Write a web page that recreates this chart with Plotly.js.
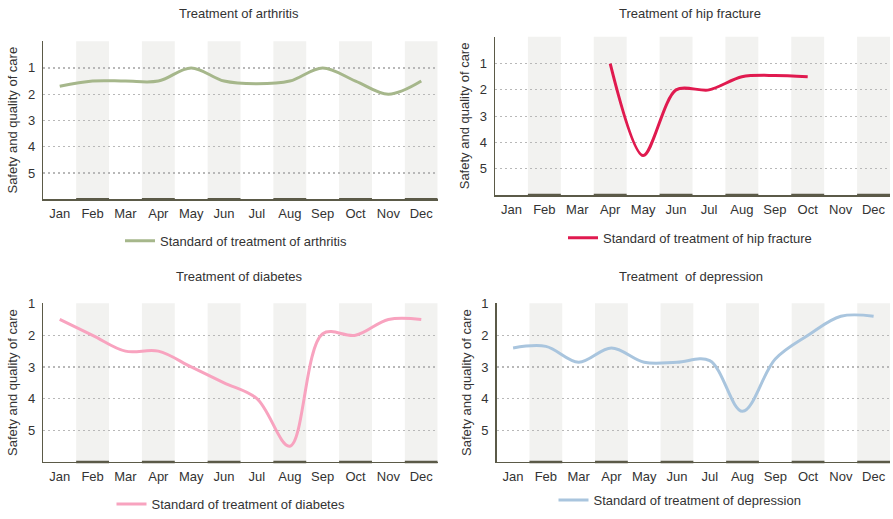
<!DOCTYPE html>
<html>
<head>
<meta charset="utf-8">
<script src="https://cdn.plot.ly/plotly-3.0.1.min.js"></script>
<style>html,body{margin:0;padding:0;background:#fff;}#chart{width:893px;height:519px;}</style>
</head>
<body>
<div id="chart"></div>
<script>
const months = ["Jan","Feb","Mar","Apr","May","Jun","Jul","Aug","Sep","Oct","Nov","Dec"];
const arthritis = [1.7, 1.5, 1.5, 1.5, 1.0, 1.5, 1.6, 1.5, 1.0, 1.5, 2.0, 1.5];
const hipFracture = [null, null, null, 1.0, 4.5, 2.0, 2.0, 1.5, 1.45, 1.5, null, null];
const diabetes = [1.5, 2.0, 2.5, 2.5, 3.0, 3.5, 4.0, 5.5, 1.95, 2.0, 1.5, 1.5];
const depression = [2.4, 2.35, 2.85, 2.4, 2.85, 2.85, 2.8, 4.4, 2.75, 2.0, 1.4, 1.4];
const titles = ["Treatment of arthritis", "Treatment of hip fracture", "Treatment of diabetes", "Treatment  of depression"];
const seriesNames = ["Standard of treatment of arthritis", "Standard of treatment of hip fracture", "Standard of treatment of diabetes", "Standard of treatment of depression"];
const colors = ["#a6b78b", "#e01a4f", "#f8a3bf", "#a9c5de"];
const yTitle = "Safety and quality of care";

const W = 893, H = 519;
const FONT = "Liberation Sans, Arial, Helvetica, sans-serif";
const FS = 13;
const TXT = "#333333";
const AXC = "#5b5a48";
// panel pixel boxes [left, right, top, bottom]
const boxes = [
  [43.3, 437.7, 41.7, 202],
  [495, 890, 37.3, 197.7],
  [43.3, 437.7, 307.3, 468.3],
  [496.7, 890, 307.3, 468.3]
];
const yRanges = [[6, -0.02], [6, -0.02], [6, 0.985], [6, 0.985]];
const yTicks = [[0,1,2,3,4,5],[0,1,2,3,4,5],[1,2,3,4,5],[1,2,3,4,5]];
const yTickText = [["","1","2","3","4","5"],["","1","2","3","4","5"],["1","2","3","4","5"],["1","2","3","4","5"]];
const data = [arthritis, hipFracture, diabetes, depression];
const smooth = [1, 0.85, 1, 1];
const legendPos = [[236, 244], [690, 241], [231, 511], [680, 507]];
const titlePos = [[239, 14], [690, 14], [239, 280], [691, 280]];

const traces = [];
const layout = {
  width: W, height: H,
  margin: {l: 0, r: 0, t: 0, b: 0},
  paper_bgcolor: "#ffffff",
  plot_bgcolor: "rgba(0,0,0,0)",
  font: {family: FONT, size: FS, color: TXT},
  showlegend: true,
  shapes: [],
  annotations: []
};

for (let i = 0; i < 4; i++) {
  const n = i === 0 ? "" : String(i + 1);
  const b = boxes[i];
  const xa = "xaxis" + n, ya = "yaxis" + n;
  const lg = i === 0 ? "legend" : "legend" + (i + 1);
  traces.push({
    type: "scatter", mode: "lines",
    x: months, y: data[i],
    xaxis: "x" + n, yaxis: "y" + n,
    name: seriesNames[i],
    legend: lg,
    line: {color: colors[i], width: 3, shape: "spline", smoothing: smooth[i]},
    connectgaps: false,
    hoverinfo: "skip"
  });
  layout[xa] = {
    domain: [b[0] / W, b[1] / W],
    anchor: "y" + n,
    type: "category",
    categoryorder: "array", categoryarray: months,
    range: [-0.5, 11.5],
    showgrid: false, zeroline: false,
    showline: true, linecolor: AXC, linewidth: 1.5,
    ticks: "", ticklabelstandoff: 2,
    tickfont: {size: FS, color: TXT, family: FONT},
    fixedrange: true
  };
  layout[ya] = {
    domain: [1 - b[3] / H, 1 - b[2] / H],
    anchor: "x" + n,
    range: yRanges[i],
    tickmode: "array", tickvals: yTicks[i], ticktext: yTickText[i],
    showgrid: true, gridcolor: "#b8b8b8", gridwidth: 1.2, griddash: "2px,3px",
    zeroline: false,
    showline: true, linecolor: AXC, linewidth: 1.5,
    ticks: "", ticklabelstandoff: 4,
    tickfont: {size: FS, color: TXT, family: FONT},
    title: {text: yTitle, font: {size: FS, color: TXT, family: FONT}, standoff: 7},
    fixedrange: true
  };
  layout[lg] = {
    x: legendPos[i][0] / W, y: 1 - legendPos[i][1] / H,
    xanchor: "center", yanchor: "middle",
    orientation: "h",
    bgcolor: "rgba(0,0,0,0)",
    font: {size: FS, color: TXT, family: FONT},
    itemwidth: 30
  };
  // shaded alternating month bands
  for (let k = 1; k < 12; k += 2) {
    layout.shapes.push({
      type: "rect", layer: "below",
      xref: "x" + n, yref: "y" + n + " domain",
      x0: k - 0.5, x1: k + 0.5, y0: 0, y1: 1,
      fillcolor: "#f2f2f0", line: {width: 0}
    });
    layout.shapes.push({
      type: "line", layer: "above",
      xref: "x" + n, yref: "y" + n + " domain",
      x0: k - 0.5, x1: k + 0.5, y0: 0, y1: 0,
      line: {color: AXC, width: 2.5}
    });
  }
  layout.annotations.push({
    text: titles[i], xref: "paper", yref: "paper",
    x: titlePos[i][0] / W, y: 1 - titlePos[i][1] / H,
    xanchor: "center", yanchor: "middle", showarrow: false,
    font: {size: FS, color: TXT, family: FONT}
  });
}

Plotly.newPlot("chart", traces, layout, {displayModeBar: false, staticPlot: true});
</script>
</body>
</html>
